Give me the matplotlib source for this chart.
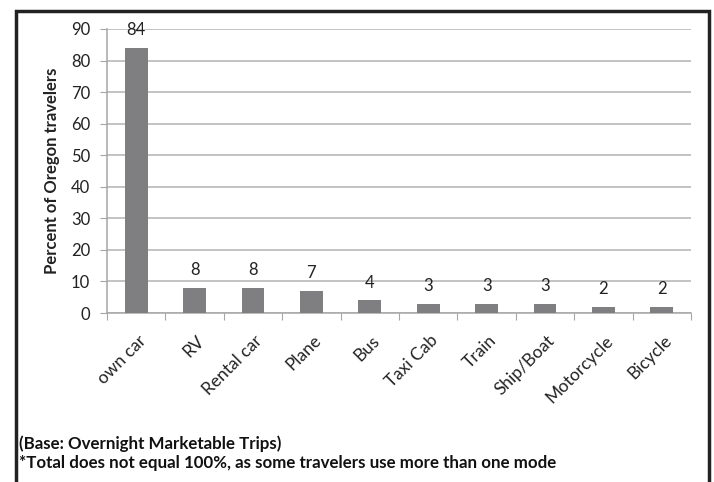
import numpy as np
import matplotlib.pyplot as plt
from matplotlib.patches import Rectangle

plt.rcParams['font.family'] = ['Lato', 'DejaVu Sans']

modes = ['own car', 'RV', 'Rental car', 'Plane', 'Bus', 'Taxi Cab',
         'Train', 'Ship/Boat', 'Motorcycle', 'Bicycle']
pct = [84, 8, 8, 7, 4, 3, 3, 3, 2, 2]

W, H = 714, 482
fig = plt.figure(figsize=(W / 100, H / 100), dpi=100)
ax = fig.add_axes([107 / W, 1 - 313 / H, (691 - 107) / W, (313 - 29) / H])

x = np.arange(len(modes))
ax.bar(x, pct, width=0.39, color='#7f7f81', zorder=3)
for xi, v in zip(x, pct):
    ax.text(xi, v + 3, str(v), ha='center', va='bottom',
            fontsize=12, color='#222222')

ax.set_xlim(-0.5, len(modes) - 0.5)
ax.set_ylim(0, 90)
ax.set_yticks(np.arange(0, 91, 10))
ax.yaxis.grid(True, color='#b3b3b3', linewidth=1.1, zorder=0)
ax.tick_params(axis='y', length=5, color='#a6a6a6', labelsize=12,
               labelcolor='#222222', pad=7)

# category boundaries carry the tick marks, labels sit at the centres
ax.set_xticks(np.arange(-0.5, len(modes)))
ax.set_xticklabels([])
ax.tick_params(axis='x', length=5, color='#a6a6a6')
for xi, name in zip(x, modes):
    ax.annotate(name, xy=(xi, 0), xycoords=('data', 'axes fraction'),
                xytext=(1, -14), textcoords='offset points',
                rotation=45, ha='right', va='top', rotation_mode='anchor',
                fontsize=12.5, color='#222222')

for side in ['top', 'right']:
    ax.spines[side].set_visible(False)
for side in ['left', 'bottom']:
    ax.spines[side].set_color('#a6a6a6')
    ax.spines[side].set_linewidth(1.1)

ax.set_ylabel('Percent of Oregon travelers', fontsize=12, fontweight='bold',
              color='#222222', labelpad=8)

fig.text(19 / W, 1 - 444 / H, '(Base: Overnight Marketable Trips)',
         fontsize=12.2, fontweight='bold', va='center', color='#111111')
fig.text(19 / W, 1 - 463 / H,
         '*Total does not equal 100%, as some travelers use more than one mode',
         fontsize=12.2, fontweight='bold', va='center', color='#111111')

# frame around the whole chart, open past the bottom edge
fig.patches.append(Rectangle((16 / W, -0.05), (709 - 16) / W, 1.05 - 11 / H,
                             transform=fig.transFigure, fill=False,
                             edgecolor='#222222', linewidth=2.5))

fig.savefig('out.png', dpi=100)
